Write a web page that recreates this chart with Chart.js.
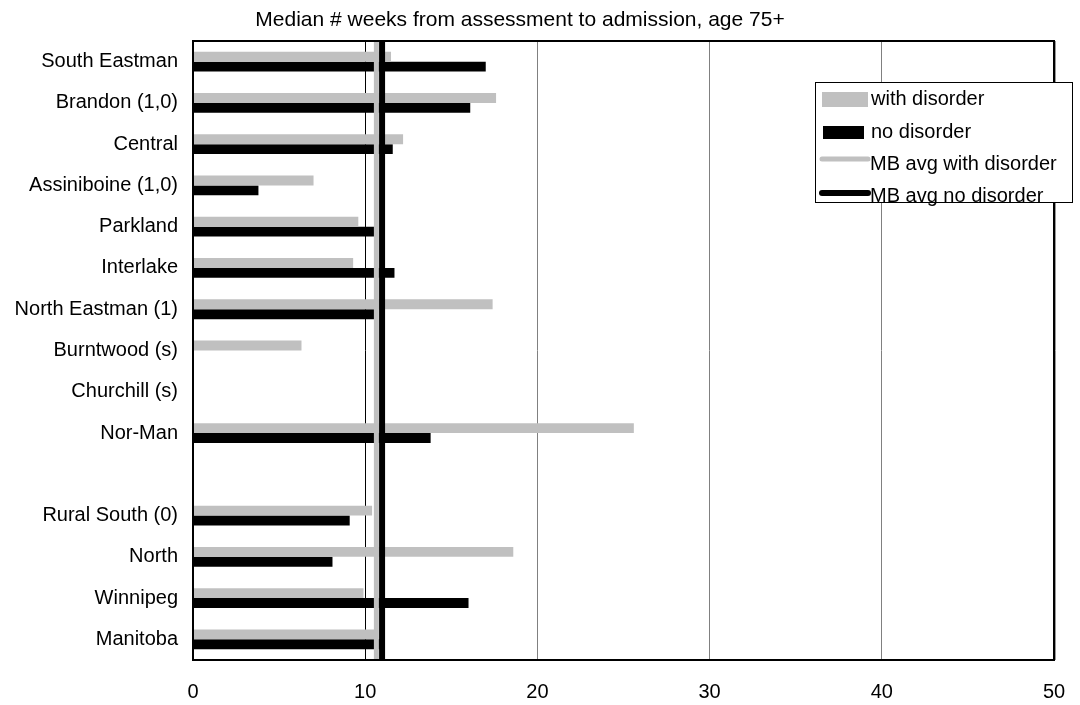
<!DOCTYPE html>
<html>
<head>
<meta charset="utf-8">
<script src="https://cdn.jsdelivr.net/npm/chart.js@4/dist/chart.umd.min.js"></script>
<style>
  html, body { margin: 0; padding: 0; background: #fff; overflow: hidden; }
  #wrap { width: 1080px; height: 705px; }
  canvas { display: block; }
</style>
</head>
<body>
<div id="wrap"><canvas id="waitChart" width="1080" height="705"></canvas></div>
<script>
// regions, top to bottom (the blank entry is the gap row)
const regions = ['South Eastman', 'Brandon (1,0)', 'Central', 'Assiniboine (1,0)', 'Parkland',
    'Interlake', 'North Eastman (1)', 'Burntwood (s)', 'Churchill (s)', 'Nor-Man', '',
    'Rural South (0)', 'North', 'Winnipeg', 'Manitoba'];

// median weeks, age 75+
const withDisorder = [11.5, 17.6, 12.2, 7.0, 9.6, 9.3, 17.4, 6.3, null, 25.6, null, 10.4, 18.6, 9.9, 10.65];
const noDisorder   = [17.0, 16.1, 11.6, 3.8, 10.6, 11.7, 10.6, null, null, 13.8, null, 9.1, 8.1, 16.0, 10.98];

const mbAvgWith = 10.65;
const mbAvgNo = 10.98;

const xTicks = [0, 10, 20, 30, 40, 50];

const subtitle = 'Median # weeks from assessment to admission, age 75+';

const FONT = "'Liberation Sans', Arial, sans-serif";
const GREY = '#c0c0c0';

// MB average lines, the frame, subtitle and the legend box
const overlayPlugin = {
    id: 'overlay',
    afterDatasetsDraw(chart) {
        let ctx = chart.ctx;
        let a = chart.chartArea;
        let x = chart.scales.x;

        ctx.save();
        [[mbAvgWith, GREY, 5], [mbAvgNo, '#000', 6]].forEach(function(l) {
            let px = x.getPixelForValue(l[0]);
            ctx.strokeStyle = l[1];
            ctx.lineWidth = l[2];
            ctx.beginPath();
            ctx.moveTo(px, a.top);
            ctx.lineTo(px, a.bottom);
            ctx.stroke();
        });

        ctx.strokeStyle = '#000';
        ctx.lineWidth = 2;
        ctx.strokeRect(a.left, a.top, a.right - a.left, a.bottom - a.top);
        ctx.strokeStyle = '#999';
        ctx.lineWidth = 1;
        ctx.beginPath();
        ctx.moveTo(a.right + 1.5, a.top);
        ctx.lineTo(a.right + 1.5, a.bottom);
        ctx.stroke();
        ctx.restore();
    },
    afterDraw(chart) {
        let ctx = chart.ctx;
        ctx.save();

        ctx.font = '21px ' + FONT;
        ctx.textAlign = 'center';
        ctx.textBaseline = 'middle';
        ctx.fillStyle = '#000';
        ctx.fillText(subtitle, 520, 20);

        let bx = 815, by = 82, bw = 257, bh = 120;
        ctx.fillStyle = '#fff';
        ctx.fillRect(bx, by, bw, bh);
        ctx.strokeStyle = '#000';
        ctx.lineWidth = 1;
        ctx.strokeRect(bx + 0.5, by + 0.5, bw, bh);

        ctx.fillStyle = GREY;
        ctx.fillRect(822, 92, 46, 15);
        ctx.fillStyle = '#000';
        ctx.fillRect(823, 126, 41, 13);

        ctx.lineCap = 'round';
        ctx.strokeStyle = GREY;
        ctx.lineWidth = 5;
        ctx.beginPath(); ctx.moveTo(822, 159); ctx.lineTo(868, 159); ctx.stroke();
        ctx.strokeStyle = '#000';
        ctx.lineWidth = 6;
        ctx.beginPath(); ctx.moveTo(822, 193); ctx.lineTo(868, 193); ctx.stroke();

        ctx.font = '20px ' + FONT;
        ctx.textAlign = 'left';
        ctx.fillStyle = '#000';
        ctx.fillText('with disorder', 871, 99);
        ctx.fillText('no disorder', 871, 132);
        ctx.fillText('MB avg with disorder', 870, 164);
        ctx.fillText('MB avg no disorder', 870, 196);
        ctx.restore();
    }
};

let ctx = document.getElementById('waitChart').getContext('2d');

new Chart(ctx, {
    type: 'bar',
    data: {
        labels: regions,
        datasets: [{
            label: 'with disorder',
            backgroundColor: GREY,
            data: withDisorder
        }, {
            label: 'no disorder',
            backgroundColor: '#000',
            data: noDisorder
        }]
    },
    options: {
        indexAxis: 'y',
        responsive: false,
        animation: false,
        datasets: { bar: { categoryPercentage: 0.48, barPercentage: 1.0 } },
        layout: { padding: { left: 0, right: 26, top: 41, bottom: 0 } },
        scales: {
            x: {
                min: 0,
                max: 50,
                afterBuildTicks: function(axis) { axis.ticks = xTicks.map(v => ({ value: v })); },
                afterFit: function(axis) {
                    axis.height = 45;
                    axis.paddingLeft = 0;
                    axis.paddingRight = 0;
                },
                grid: {
                    drawTicks: false,
                    color: c => c.tick && c.tick.value === 10 ? '#000' : '#808080',
                    lineWidth: c => (c.tick && (c.tick.value === 0 || c.tick.value === 50)) ? 0 : 1
                },
                border: { display: false },
                ticks: { color: '#000', padding: 20, font: { family: FONT, size: 20 } }
            },
            y: {
                afterFit: function(axis) { axis.width = 193; },
                grid: { display: false, drawTicks: false },
                border: { display: false },
                ticks: { color: '#000', padding: 15, autoSkip: false, font: { family: FONT, size: 20 } }
            }
        },
        plugins: {
            legend: { display: false },
            tooltip: { enabled: false },
            title: { display: false }
        }
    },
    plugins: [overlayPlugin]
});
</script>
</body>
</html>
